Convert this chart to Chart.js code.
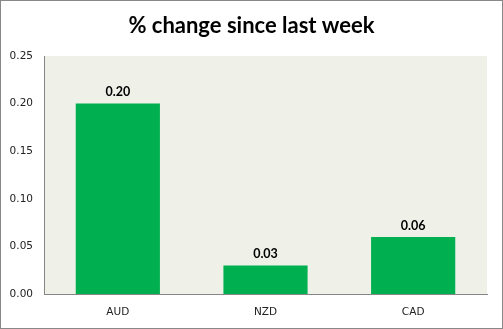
<!DOCTYPE html>
<html>
<head>
<meta charset="utf-8">
<script src="https://cdn.jsdelivr.net/npm/chart.js@4/dist/chart.umd.min.js"></script>
<style>
    body { margin: 0; background: #fff; }
    #wrap { width: 503px; height: 329px; box-sizing: border-box; border: 1px solid #888; position: relative; }
    #myChart { display: block; }
</style>
</head>
<body>
<div id="wrap"><canvas id="myChart" width="501" height="327"></canvas></div>
<script>
const chartTitle = '% change since last week';
const currencies = ['AUD', 'NZD', 'CAD'];
const weeklyChange = [0.20, 0.03, 0.06];
const yTicks = [0, 0.05, 0.10, 0.15, 0.20, 0.25];

// plot area fill behind the bars
const plotBackground = {
    id: 'plotBackground',
    beforeDraw(chart) {
        const { ctx, chartArea } = chart;
        ctx.save();
        ctx.fillStyle = '#eff0e8';
        ctx.fillRect(chartArea.left, chartArea.top, chartArea.right - chartArea.left, chartArea.bottom - chartArea.top);
        ctx.restore();
    }
};

// title centred on the whole canvas, not on the padded box
const centredTitle = {
    id: 'centredTitle',
    afterDraw(chart) {
        const { ctx } = chart;
        ctx.save();
        ctx.font = 'bold 22px Lato';
        ctx.fillStyle = '#000';
        ctx.textAlign = 'center';
        ctx.textBaseline = 'middle';
        ctx.fillText(chartTitle, chart.width / 2, 25);
        ctx.restore();
    }
};

// value written above each bar
const barValues = {
    id: 'barValues',
    afterDatasetsDraw(chart) {
        const { ctx } = chart;
        const meta = chart.getDatasetMeta(0);
        ctx.save();
        ctx.font = 'bold 12.5px Lato';
        ctx.fillStyle = '#000';
        ctx.textAlign = 'center';
        ctx.textBaseline = 'bottom';
        meta.data.forEach((bar, i) => {
            ctx.fillText(weeklyChange[i].toFixed(2), bar.x, bar.y - 5);
        });
        ctx.restore();
    }
};

let ctx = document.getElementById('myChart').getContext('2d');

let myChart = new Chart(ctx, {
    type: 'bar',
    data: {
        labels: currencies,
        datasets: [{
            data: weeklyChange,
            backgroundColor: '#00b050',
            borderWidth: 0,
            categoryPercentage: 0.57,
            barPercentage: 1
        }]
    },
    options: {
        responsive: false,
        animation: false,
        layout: { padding: { top: 55, left: 0, right: 15, bottom: 0 } },
        plugins: {
            legend: { display: false },
            tooltip: { enabled: false },
            title: { display: false }
        },
        scales: {
            x: {
                grid: { display: false, drawTicks: false },
                border: { color: '#868686' },
                ticks: { color: '#222', font: { family: 'DejaVu Sans', size: 10.5 }, padding: 12 },
                afterFit: (scale) => { scale.height = 34; }
            },
            y: {
                min: 0,
                max: 0.25,
                grid: { display: false, drawTicks: false },
                border: { color: '#868686' },
                afterBuildTicks: (scale) => { scale.ticks = yTicks.map(v => ({ value: v })); },
                ticks: {
                    color: '#222',
                    font: { family: 'DejaVu Sans', size: 10.5 },
                    padding: 11,
                    callback: (v) => v.toFixed(2)
                },
                afterFit: (scale) => { scale.width = 43; }
            }
        }
    },
    plugins: [plotBackground, barValues, centredTitle]
});
</script>
</body>
</html>
